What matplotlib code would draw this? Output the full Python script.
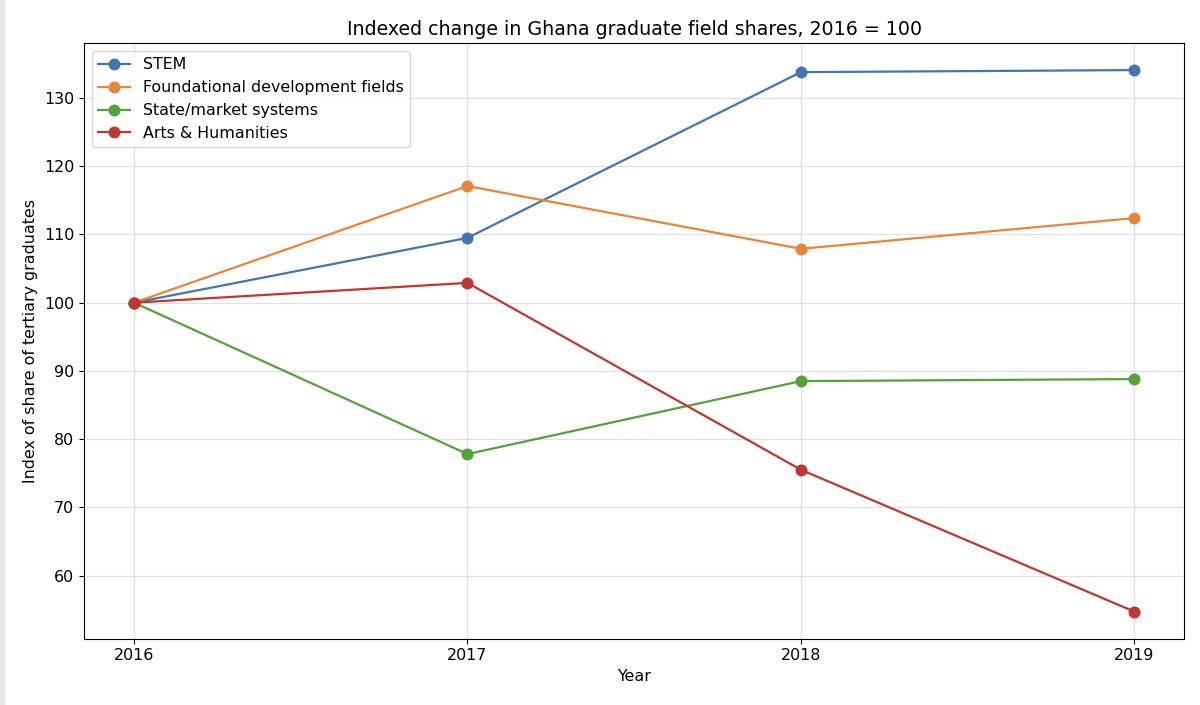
import matplotlib
matplotlib.use("Agg")
import matplotlib.pyplot as plt

# datos (indice, 2016 = 100)
years = [2016, 2017, 2018, 2019]
stem = [100, 109.5, 133.8, 134.1]
foundational = [100, 117.1, 107.9, 112.4]
state_market = [100, 77.8, 88.5, 88.8]
arts = [100, 102.9, 75.5, 54.7]

series = [
    ("STEM", stem, "#4575ae"),
    ("Foundational development fields", foundational, "#e8853a"),
    ("State/market systems", state_market, "#55a13c"),
    ("Arts & Humanities", arts, "#bf3730"),
]

fig, ax = plt.subplots(figsize=(12, 7.05), dpi=100)

for name, vals, col in series:
    ax.plot(years, vals, marker="o", color=col, linewidth=1.6, markersize=7.6, label=name)

ax.set_xticks(years)
ax.set_xlabel("Year", fontsize=11.4)
ax.set_ylabel("Index of share of tertiary graduates", fontsize=11.4)
ax.set_title("Indexed change in Ghana graduate field shares, 2016 = 100", fontsize=13.7)
ax.tick_params(labelsize=11.4)
ax.grid(True, color="#e0e0e0", linewidth=0.9)
ax.legend(loc="upper left", fontsize=11.4)

plt.subplots_adjust(left=0.07, right=0.987, top=0.939, bottom=0.094)

# borde gris a la izquierda como en la captura
fig.patches.append(plt.Rectangle((0, 0), 0.003, 1, transform=fig.transFigure,
                                 color="#e6e6e6", zorder=0))

fig.savefig("out.png", dpi=100)
